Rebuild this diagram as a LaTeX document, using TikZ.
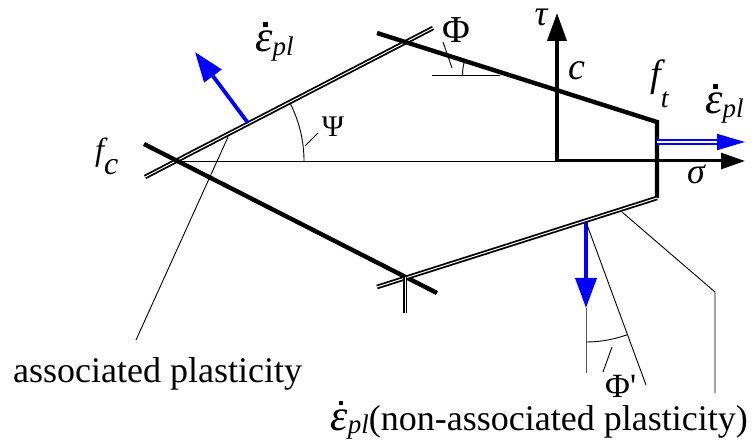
\documentclass[tikz,border=0pt]{standalone}
\usepackage{fontspec}
\setmainfont{Liberation Serif}
\usetikzlibrary{arrows.meta}
\newcommand{\epl}{{\fontsize{44}{44}\selectfont\itshape\ooalign{ε\cr\hidewidth\kern3pt\raisebox{25pt}{\rule{4.5pt}{4.5pt}}\hidewidth\cr}}\raisebox{-0.1em}{\fontsize{27}{27}\selectfont\itshape pl}}
\tikzset{
  wall/.style={line width=4.4pt,line join=miter},
  dwall/.style={double,line width=1.8pt,double distance=1pt},
  fine/.style={line width=0.9pt},
  axis/.style={line width=3.5pt,-{Triangle[length=28pt,width=19pt]}},
  flow/.style={blue,line width=3.8pt,-{Triangle[length=30pt,width=21pt]}},
  lbl/.style={inner sep=0pt,font=\fontsize{36}{40}\selectfont},
  sym/.style={inner sep=0pt,font=\fontsize{34}{38}\selectfont\itshape},
}
\begin{document}
\begin{tikzpicture}[x=1pt,y=-1pt]
\useasboundingbox (0,0) rectangle (755,446);
\coordinate (fc) at (177,161);
\coordinate (O) at (557,161);
\coordinate (tauTip) at (557,13);
\coordinate (sigTip) at (745,161);
\coordinate (ulA) at (145,177);
\coordinate (ulB) at (433,28);
\coordinate (llA) at (144,144);
\coordinate (llB) at (437,293);
\coordinate (urA) at (377,33);
\coordinate (urB) at (657,122);
\coordinate (lrA) at (377,287);
\coordinate (lrB) at (657,198);
\coordinate (tickA) at (405,277);
\coordinate (tickB) at (405,313);
% walls of the surface
\draw[fine] (fc) -- (O);
\draw[dwall] (ulA) -- (ulB);
\draw[wall] (llA) -- (llB);
\draw[wall] (urA) -- (urB) -- (lrB);
\draw[dwall] (lrB) -- (lrA);
\draw[dwall] (tickA) -- (tickB);
% axes
\draw[axis,line width=4pt] (O) -- (tauTip);
\draw[axis,line width=3pt,-{Triangle[length=24pt,width=16pt]}] (O) -- (sigTip);
% flow directions
\coordinate (n1A) at (248,123);
\coordinate (n1B) at (195,52);
\coordinate (n2A) at (657,142);
\coordinate (n2B) at (745,142);
\coordinate (n3A) at (586,222);
\coordinate (n3B) at (586,308);
\coordinate (n3C) at (586,373);
\coordinate (phiP) at (646,385);
\draw[flow] (n1A) -- (n1B);
\draw[flow,-{Triangle[length=28pt,width=16pt]},double=white,line width=2pt,double distance=1.4pt] (n2A) -- (n2B);
\draw[fine,gray!70!black] (n3B) -- (n3C);
\draw[flow] (n3A) -- (n3B);
\draw[fine] (n3A) -- (phiP);
% angles
\coordinate (psiA) at (304,161);
\coordinate (phiA) at (462.5,75);
\coordinate (phiB) at (586,342);
\draw[fine] (psiA) arc[start angle=0,end angle=-27.4,radius=127];
\draw[fine] (305,146) -- (318,133);
\draw[fine] (432,75) -- (500,75);
\draw[fine] (phiA) arc[start angle=180,end angle=197.6,radius=47];
\draw[fine] (443,42) -- (452,68);
\draw[fine] (phiB) arc[start angle=90,end angle=69.8,radius=120];
\draw[fine] (612,347) -- (603,372);
% leaders
\coordinate (asA) at (228,137);
\coordinate (asB) at (136,340);
\coordinate (naA) at (622,212);
\coordinate (naB) at (715,292);
\coordinate (naC) at (715,393);
\draw[fine] (asA) -- (asB);
\draw[fine] (naA) -- (naB) -- (naC);
% labels
\node[sym,anchor=base west] (fcLbl) at (95,161) {\fontsize{32}{32}\selectfont f\raisebox{-0.42em}{c}};
\node[sym,anchor=base west] (ftLbl) at (650,87) {\fontsize{38}{38}\selectfont f\raisebox{-0.55em}{\fontsize{28}{28}\selectfont t}};
\node[sym,anchor=base] (tauLbl) at (541,26) {\fontsize{36}{36}\selectfont τ};
\node[sym,anchor=base] (cLbl) at (577,80) {\fontsize{38}{38}\selectfont c};
\node[sym,anchor=base] (sigLbl) at (696,184) {\fontsize{36}{36}\selectfont σ};
\node[lbl,anchor=base] (psiLbl) at (333,137) {\fontsize{30}{30}\selectfont Ψ};
\node[lbl,anchor=base] (phiLbl) at (456,43) {\fontsize{38}{38}\selectfont Φ};
\node[lbl,anchor=base west] (phiPLbl) at (605,397) {\fontsize{34}{34}\selectfont Φ\textquotesingle};
\node[sym,anchor=base west] (e1Lbl) at (255,52) {\epl};
\node[sym,anchor=base west] (e2Lbl) at (705,114) {\epl};
\node[lbl,anchor=base west] (asLbl) at (13,382) {associated plasticity};
\node[lbl,anchor=base east] (naLbl) at (748,430) {\epl\fontsize{36}{40}\selectfont\upshape(non-associated plasticity)};
\end{tikzpicture}
\end{document}
